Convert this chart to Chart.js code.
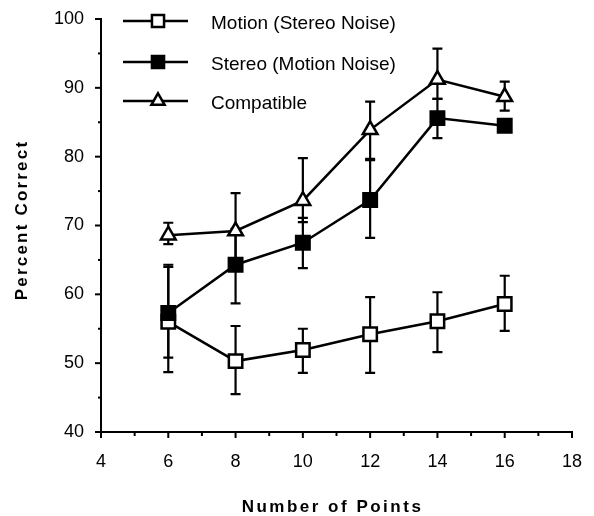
<!DOCTYPE html>
<html><head><meta charset="utf-8">
<script src="https://cdn.jsdelivr.net/npm/chart.js@4.4.1/dist/chart.umd.min.js"></script>
<style>html,body{margin:0;padding:0;background:#fff;}</style>
</head><body>
<canvas id="c" width="594" height="516"></canvas>
<script>
// ---- data ----
const numberOfPoints = [6, 8, 10, 12, 14, 16];

const motionLabel = 'Motion (Stereo Noise)';
const motion     = [56.0, 50.3, 51.9, 54.2, 56.1, 58.6];
const motionLow  = [48.7, 45.5, 48.6, 48.6, 51.6, 54.7];
const motionHigh = [64.0, 55.4, 55.0, 59.6, 60.3, 62.7];

const stereoLabel = 'Stereo (Motion Noise)';
const stereo     = [57.3, 64.3, 67.5, 73.7, 85.6, 84.5];
const stereoLow  = [50.8, 58.7, 63.8, 68.2, 82.7, null];
const stereoHigh = [64.3, 69.5, 71.1, 79.5, 88.4, null];

const compatibleLabel = 'Compatible';
const compatible     = [68.6, 69.2, 73.6, 83.9, 91.2, 88.7];
const compatibleLow  = [67.3, 64.5, 70.5, 79.7, 88.4, 86.7];
const compatibleHigh = [70.4, 74.7, 79.8, 88.0, 95.7, 90.9];

const xTitle = 'Number of Points';
const yTitle = 'Percent Correct';

const FONT = '"Liberation Sans", Arial, Helvetica, sans-serif';
const LW = 2.5;

function pts(arr){ return numberOfPoints.map((x, i) => ({x: x, y: arr[i]})); }

const errorBars = {
  id: 'errorBars',
  beforeDatasetsDraw(chart){
    const ctx = chart.ctx, xs = chart.scales.x, ys = chart.scales.y;
    ctx.save();
    ctx.strokeStyle = '#000';
    ctx.lineWidth = 2.2;
    chart.data.datasets.forEach(ds => {
      numberOfPoints.forEach((xv, j) => {
        const lo = ds.errLow[j], hi = ds.errHigh[j];
        if (lo == null || hi == null) return;
        const px = xs.getPixelForValue(xv);
        const yl = ys.getPixelForValue(lo), yh = ys.getPixelForValue(hi);
        ctx.beginPath();
        ctx.moveTo(px, yl); ctx.lineTo(px, yh);
        ctx.moveTo(px - 5, yl); ctx.lineTo(px + 5, yl);
        ctx.moveTo(px - 5, yh); ctx.lineTo(px + 5, yh);
        ctx.stroke();
      });
    });
    ctx.restore();
  }
};

const tickMarks = {
  id: 'tickMarks',
  afterDraw(chart){
    const ctx = chart.ctx, xs = chart.scales.x, ys = chart.scales.y, ca = chart.chartArea;
    ctx.save();
    ctx.strokeStyle = '#000';
    ctx.lineWidth = 2;
    xs.ticks.forEach(t => {
      const px = xs.getPixelForValue(t.value);
      const len = (t.value % 2 === 0) ? 6 : 4;
      ctx.beginPath(); ctx.moveTo(px, ca.bottom); ctx.lineTo(px, ca.bottom + len); ctx.stroke();
    });
    ys.ticks.forEach(t => {
      const py = ys.getPixelForValue(t.value);
      const len = (t.value % 10 === 0) ? 6 : 3;
      ctx.beginPath(); ctx.moveTo(ca.left, py); ctx.lineTo(ca.left - len, py); ctx.stroke();
    });
    // axis titles
    ctx.fillStyle = '#000';
    ctx.font = 'bold 17px ' + FONT;
    ctx.textAlign = 'center';
    ctx.textBaseline = 'middle';
    ctx.letterSpacing = '2.5px';
    ctx.fillText(xTitle, (ca.left + ca.right) / 2 - 4, 507);
    ctx.letterSpacing = '2.2px';
    ctx.translate(22, 220);
    ctx.rotate(-Math.PI / 2);
    ctx.fillText(yTitle, 0, 0);
    ctx.restore();
  }
};

const insideLegend = {
  id: 'insideLegend',
  afterDatasetsDraw(chart){
    const ctx = chart.ctx, ca = chart.chartArea;
    const x0 = ca.left + 22, x1 = ca.left + 87, mx = ca.left + 57, tx = ca.left + 110;
    const rows = [ca.top + 2, ca.top + 43, ca.top + 82];
    chart.data.datasets.forEach((ds, i) => {
      const y = rows[i];
      ctx.save();
      ctx.strokeStyle = '#000'; ctx.lineWidth = LW;
      ctx.beginPath(); ctx.moveTo(x0, y); ctx.lineTo(x1, y); ctx.stroke();
      ctx.fillStyle = ds.pointBackgroundColor;
      Chart.helpers.drawPoint(ctx, {pointStyle: ds.pointStyle, radius: ds.pointRadius * 0.9, borderWidth: LW, rotation: 0}, mx, y);
      ctx.fillStyle = '#000';
      ctx.font = '19px ' + FONT;
      ctx.textAlign = 'left';
      ctx.textBaseline = 'middle';
      ctx.fillText(ds.label, tx, y + 3);
      ctx.restore();
    });
  }
};

const common = {borderColor: '#000', borderWidth: LW, pointBorderColor: '#000', pointBorderWidth: LW, tension: 0, showLine: true};

new Chart(document.getElementById('c'), {
  type: 'scatter',
  data: {
    datasets: [
      Object.assign({label: motionLabel, data: pts(motion), errLow: motionLow, errHigh: motionHigh,
        pointStyle: 'rect', pointRadius: 9.5, pointBackgroundColor: '#fff', order: 1}, common),
      Object.assign({label: stereoLabel, data: pts(stereo), errLow: stereoLow, errHigh: stereoHigh,
        pointStyle: 'rect', pointRadius: 9.5, pointBackgroundColor: '#000', order: 0}, common),
      Object.assign({label: compatibleLabel, data: pts(compatible), errLow: compatibleLow, errHigh: compatibleHigh,
        pointStyle: 'triangle', pointRadius: 8.5, pointBackgroundColor: '#fff', order: 2}, common)
    ]
  },
  options: {
    responsive: false,
    animation: false,
    devicePixelRatio: 1,
    layout: {padding: {left: 0, top: 19, right: 22, bottom: 0}},
    plugins: {legend: {display: false}, tooltip: {enabled: false}},
    scales: {
      x: {
        type: 'linear', min: 4, max: 18,
        afterFit(s){ s.height = 84; },
        grid: {display: true, drawOnChartArea: false, drawTicks: true, tickLength: 17, color: 'rgba(0,0,0,0)'},
        border: {display: true, color: '#000', width: 2},
        ticks: {stepSize: 1, padding: 2, color: '#000', font: {family: FONT, size: 18},
          callback: v => (v % 2 === 0 ? String(v) : '')}
      },
      y: {
        type: 'linear', min: 40, max: 100,
        afterFit(s){ s.width = 101; },
        grid: {display: true, drawOnChartArea: false, drawTicks: true, tickLength: 15, color: 'rgba(0,0,0,0)'},
        border: {display: true, color: '#000', width: 2},
        ticks: {stepSize: 5, padding: 2, color: '#000', font: {family: FONT, size: 18},
          callback: v => (v % 10 === 0 ? String(v) : '')}
      }
    }
  },
  plugins: [errorBars, insideLegend, tickMarks]
});
</script>
</body></html>
